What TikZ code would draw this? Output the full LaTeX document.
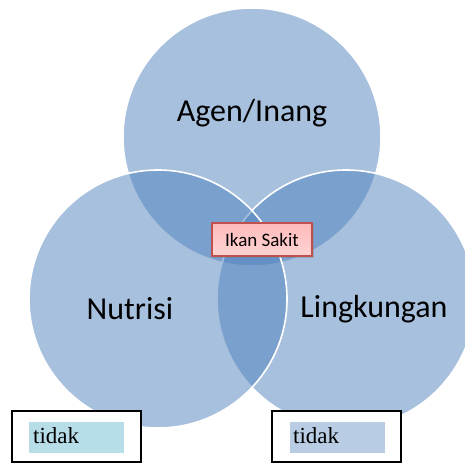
\documentclass[tikz,border=0pt]{standalone}
\usepackage{fontspec}
\setmainfont{Carlito}
\newfontfamily\tidakfont{Liberation Serif}
\usetikzlibrary{shadows}
\definecolor{vennblue}{RGB}{79,129,189}
\definecolor{sakitborder}{RGB}{192,80,77}
\definecolor{cyanbox}{RGB}{183,221,232}
\definecolor{bluebox}{RGB}{184,204,228}
\tikzset{
  venn/.style={circle, minimum size=258pt, inner sep=0pt, fill=vennblue, fill opacity=0.5, draw=white, line width=1.6pt},
  biglabel/.style={font=\fontsize{32}{36}\selectfont, text=black},
  sakit/.style={draw=sakitborder, line width=1.5pt, top color=red!27, bottom color=red!17,
    minimum width=100pt, minimum height=33pt, inner sep=0pt, font=\fontsize{19}{22}\selectfont,
    drop shadow={shadow xshift=1.5pt, shadow yshift=-1.5pt, opacity=0.35}},
  outerbox/.style={draw=black, line width=1.6pt, fill=white},
  tidakbox/.style={minimum width=95pt, minimum height=31pt, inner sep=0pt, anchor=north west},
  tidaktext/.style={font=\tidakfont\fontsize{23}{26}\selectfont, anchor=base west, inner sep=0pt}
}
\begin{document}
\begin{tikzpicture}[x=1pt,y=-1pt]
\useasboundingbox (0,0) rectangle (465,463);
\node[venn] (top) at (252,137) {};
\node[venn] (right) at (346,299) {};
\node[venn] (left) at (158,299) {};
\node[biglabel] (agen) at (252,113) {Agen/Inang};
\node[biglabel] (nutrisi) at (130,309) {Nutrisi};
\node[biglabel] (lingk) at (374,309) {Lingkungan};
\node[sakit] (ikan) at (262,239.5) {Ikan Sakit};
\draw[outerbox] (12,411) rectangle (141,462);
\node[tidakbox, fill=cyanbox] (lb) at (29,422) {};
\node[tidaktext] (lt) at (33,443) {tidak};
\draw[outerbox] (272,411) rectangle (401,462);
\node[tidakbox, fill=bluebox] (rb) at (290,422) {};
\node[tidaktext] (rt) at (293,443) {tidak};
\end{tikzpicture}
\end{document}
